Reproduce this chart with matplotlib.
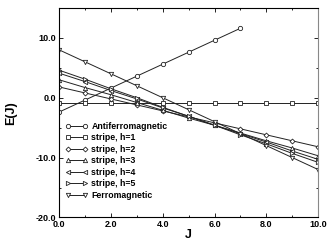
import numpy as np
import matplotlib
matplotlib.use('Agg')
import matplotlib.pyplot as plt
from matplotlib.ticker import MultipleLocator, FormatStrFormatter

plt.rcParams['font.family'] = ['Liberation Sans', 'DejaVu Sans']

J_af = [0, 1, 2, 3, 4, 5, 6, 7]
E_af = [-2.4, -0.4, 1.6, 3.6, 5.6, 7.6, 9.6, 11.6]
J = [0, 1, 2, 3, 4, 5, 6, 7, 8, 9, 10]
E_h1 = [-0.8] * 11
E_h2 = [1.8, 0.8, -0.2, -1.2, -2.2, -3.2, -4.2, -5.2, -6.2, -7.2, -8.2]
E_h3 = [3.0, 1.7, 0.5, -0.8, -2.1, -3.4, -4.6, -5.9, -7.2, -8.4, -9.7]
E_h4 = [4.1, 2.7, 1.2, -0.2, -1.7, -3.1, -4.6, -6.0, -7.4, -8.9, -10.3]
E_h5 = [4.6, 3.1, 1.5, 0.0, -1.6, -3.1, -4.6, -6.2, -7.7, -9.3, -10.8]
E_fm = [8.0, 6.0, 4.0, 2.0, 0.0, -2.0, -4.0, -6.0, -8.0, -10.0, -12.0]

series = [
    (J_af, E_af, 'o', 'Antiferromagnetic'),
    (J, E_h1, 's', 'stripe, h=1'),
    (J, E_h2, 'D', 'stripe, h=2'),
    (J, E_h3, '^', 'stripe, h=3'),
    (J, E_h4, '<', 'stripe, h=4'),
    (J, E_h5, '>', 'stripe, h=5'),
    (J, E_fm, 'v', 'Ferromagnetic'),
]

fig = plt.figure(figsize=(3.28, 2.40), dpi=100)
ax = fig.add_axes([0.18, 0.094, 0.79, 0.873])

for xs, ys, mk, lab in series:
    ms = 2.5 if mk == 'D' else 3.1
    ax.plot(xs, ys, color='#222222', lw=0.7, marker=mk, ms=ms,
            mfc='white', mec='#222222', mew=0.6, label=lab)

ax.set_xlim(0, 10)
ax.set_ylim(-20, 15)
ax.xaxis.set_major_locator(MultipleLocator(2))
ax.xaxis.set_minor_locator(MultipleLocator(1))
ax.yaxis.set_major_locator(MultipleLocator(10))
ax.yaxis.set_minor_locator(MultipleLocator(5))
ax.xaxis.set_major_formatter(FormatStrFormatter('%.1f'))
ax.yaxis.set_major_formatter(FormatStrFormatter('%.1f'))
ax.tick_params(which='both', direction='in', top=True, right=True,
               labelsize=6.5, pad=2, width=0.6)
ax.tick_params(which='major', length=3)
ax.tick_params(which='minor', length=1.5)
for lab in ax.get_xticklabels() + ax.get_yticklabels():
    lab.set_fontweight('bold')
for s in ax.spines.values():
    s.set_linewidth(0.8)
ax.spines['right'].set_color('#888888')

ax.set_xlabel('J', fontsize=9, fontweight='bold', labelpad=0)
ax.set_ylabel('E(J)', fontsize=9, fontweight='bold', labelpad=13)

ax.legend(loc='upper left', bbox_to_anchor=(0.0, 0.485), frameon=False,
          numpoints=2, handlelength=2.6, handletextpad=0.4,
          labelspacing=0.28, borderaxespad=0.3,
          prop={'size': 6.3, 'weight': 'bold'})

fig.savefig('out.png', dpi=100)
